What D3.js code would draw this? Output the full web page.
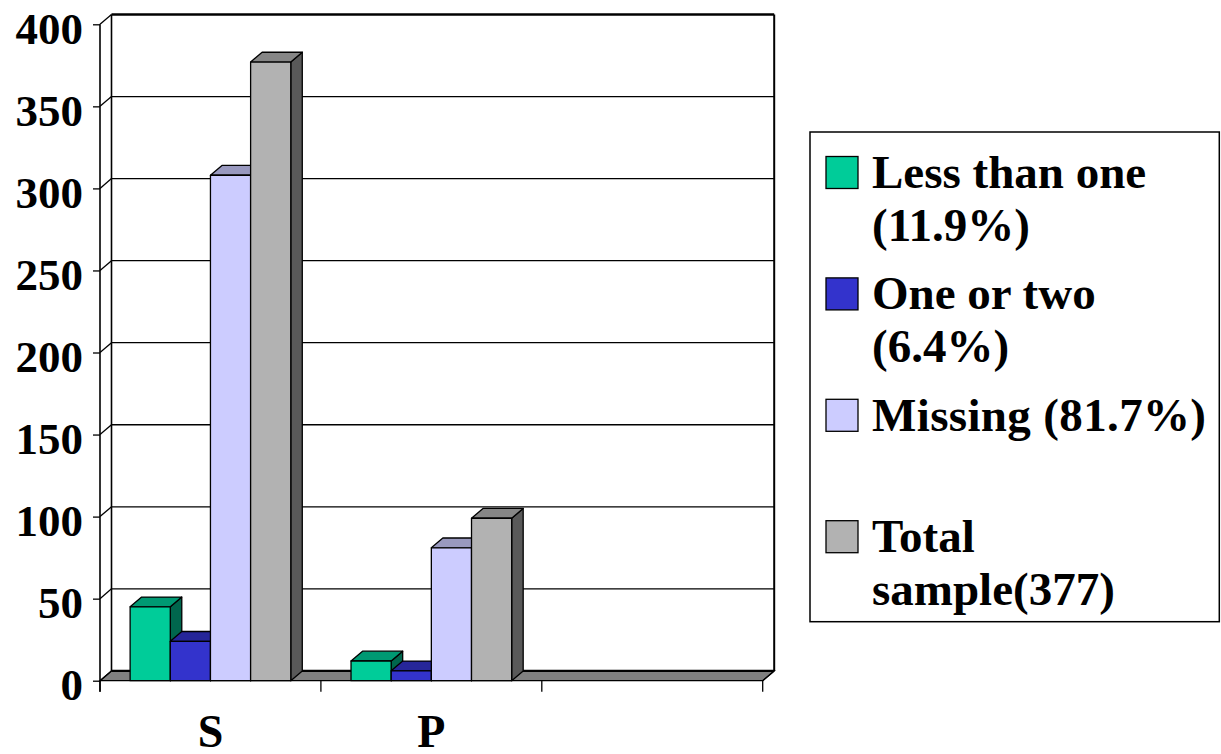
<!DOCTYPE html>
<html>
<head>
<meta charset="utf-8">
<script src="https://cdn.jsdelivr.net/npm/d3@7"></script>
<style>
  html, body { margin: 0; padding: 0; background: #fff; }
  svg { display: block; }
  svg text { font-family: "Liberation Serif", "Tinos", "Times New Roman", Times, "DejaVu Serif", serif !important; font-weight: bold; fill: #000; }
</style>
</head>
<body>
<div id="chart"></div>
<script>
// categories on the x axis (the third slot is empty in the original)
const categories = ['S', 'P', ''];
const series = ['Less than one', 'One or two', 'Missing', 'Total sample'];
const colors = ['#00CC99', '#3333CC', '#CCCCFF', '#B2B2B2'];
// values per category, one entry per series
const valuesS = [45, 24, 308, 377];
const valuesP = [12, 6, 81, 99];
const valuesEmpty = [0, 0, 0, 0];
const yTicks = [0, 50, 100, 150, 200, 250, 300, 350, 400];
const legendLines = [
  ['Less than one', '(11.9%)'],
  ['One or two', '(6.4%)'],
  ['Missing (81.7%)', ''],
  ['Total', 'sample(377)']
];

const data = categories.map((c, i) => ({
  cat: c,
  values: [valuesS, valuesP, valuesEmpty][i]
}));

const W = 1221, H = 754;
const left = 100, right = 762.7;
const y0px = 680.7, y400px = 24.3;
const DX = 11.5, DY = -9.8; // depth offset of the 3d box

const svg = d3.select('#chart').append('svg')
  .attr('width', W).attr('height', H);

const x0 = d3.scaleBand().domain(categories).range([left, right]).padding(0);
const x1 = d3.scaleBand().domain(series).range([0, x0.bandwidth()])
  .paddingInner(0).paddingOuter(0.75);
const y = d3.scaleLinear().domain([0, 400]).range([y0px, y400px]);

function shade(c, k) {
  const r = d3.rgb(c);
  return d3.rgb(r.r * k, r.g * k, r.b * k).formatHex();
}

// floor
svg.append('path')
  .attr('d', `M${left},${y(0)}L${left + DX},${y(0) + DY}L${right + DX},${y(0) + DY}L${right},${y(0)}Z`)
  .attr('fill', '#808080').attr('stroke', '#000').attr('stroke-width', 1.2);

// gridlines on back wall + diagonals on side wall
const grid = svg.append('g');
yTicks.forEach((t) => {
  grid.append('line')
    .attr('x1', left + DX).attr('x2', right + DX)
    .attr('y1', y(t) + DY).attr('y2', y(t) + DY)
    .attr('stroke', '#000').attr('stroke-width', (t === 0 || t === 400) ? 2.4 : 1.3);
  grid.append('line')
    .attr('x1', left).attr('x2', left + DX)
    .attr('y1', y(t)).attr('y2', y(t) + DY)
    .attr('stroke', '#000').attr('stroke-width', 1.3);
});

// walls outline
svg.append('line')
  .attr('x1', left + DX).attr('x2', left + DX)
  .attr('y1', y(400) + DY).attr('y2', y(0) + DY)
  .attr('stroke', '#000').attr('stroke-width', 1.6);
svg.append('line')
  .attr('x1', right + DX).attr('x2', right + DX)
  .attr('y1', y(400) + DY).attr('y2', y(0) + DY)
  .attr('stroke', '#000').attr('stroke-width', 2);
svg.append('line')
  .attr('x1', right).attr('x2', right + DX)
  .attr('y1', y(0)).attr('y2', y(0) + DY)
  .attr('stroke', '#000').attr('stroke-width', 1.3);

// bars
const bars = svg.append('g');
data.forEach((d) => {
  d.values.forEach((v, j) => {
    if (!v) return;
    const x = x0(d.cat) + x1(series[j]);
    const w = x1.bandwidth();
    const yt = y(v), yb = y(0);
    const g = bars.append('g')
      .attr('stroke', '#000').attr('stroke-width', 1.3).attr('stroke-linejoin', 'round');
    g.append('path')
      .attr('d', `M${x + w},${yt}L${x + w + DX},${yt + DY}L${x + w + DX},${yb + DY}L${x + w},${yb}Z`)
      .attr('fill', shade(colors[j], 0.5));
    g.append('path')
      .attr('d', `M${x},${yt}L${x + DX},${yt + DY}L${x + w + DX},${yt + DY}L${x + w},${yt}Z`)
      .attr('fill', shade(colors[j], 0.75));
    g.append('rect')
      .attr('x', x).attr('y', yt).attr('width', w).attr('height', yb - yt)
      .attr('fill', colors[j]);
  });
});

// y axis
const yAxis = d3.axisLeft(y).tickValues(yTicks).tickSize(7).tickPadding(10);
const yg = svg.append('g').attr('transform', `translate(${left},0)`).call(yAxis)
  .attr('font-family', null).attr('font-size', null);
yg.select('.domain').remove();
yg.selectAll('.tick line').attr('stroke', '#000').attr('stroke-width', 1.3);
yg.selectAll('.tick text')
  .attr('dy', '0.42em')
  .attr('fill', '#000')
  .style('font-size', '45px');
svg.append('line')
  .attr('x1', left).attr('x2', left)
  .attr('y1', y(400)).attr('y2', y(0) + 11)
  .attr('stroke', '#000').attr('stroke-width', 1.6);

// x axis: ticks between categories, labels centred
const xg = svg.append('g').attr('transform', `translate(0,${y(0)})`);
const edges = categories.map((c) => x0(c)).concat([right]);
xg.selectAll('line.edge').data(edges).enter().append('line')
  .attr('class', 'edge')
  .attr('x1', (d) => d).attr('x2', (d) => d)
  .attr('y1', 0).attr('y2', 11)
  .attr('stroke', '#000').attr('stroke-width', 1.3);
xg.selectAll('text.cat').data(categories).enter().append('text')
  .attr('class', 'cat')
  .attr('x', (d) => x0(d) + x0.bandwidth() / 2)
  .attr('y', 66.5)
  .attr('text-anchor', 'middle')
  .style('font-size', '46px')
  .text((d) => d);

// legend
const lg = svg.append('g');
lg.append('rect')
  .attr('x', 810).attr('y', 132).attr('width', 409.3).attr('height', 489.7)
  .attr('fill', '#fff').attr('stroke', '#000').attr('stroke-width', 1.5);
legendLines.forEach((lines, i) => {
  const by = 188 + i * 121.4;
  lg.append('rect')
    .attr('x', 826).attr('y', by - 31.5).attr('width', 32).attr('height', 32)
    .attr('fill', colors[i]).attr('stroke', '#000').attr('stroke-width', 1.3);
  lines.forEach((t, k) => {
    const txt = lg.append('text')
      .attr('x', 872).attr('y', by + k * 52.5)
      .style('font-size', '47px')
      .text(t);
    // the original spreads this line nearly to the legend border
    if (i === 2 && k === 0) {
      txt.attr('textLength', 334).attr('lengthAdjust', 'spacing');
    }
  });
});
</script>
</body>
</html>
